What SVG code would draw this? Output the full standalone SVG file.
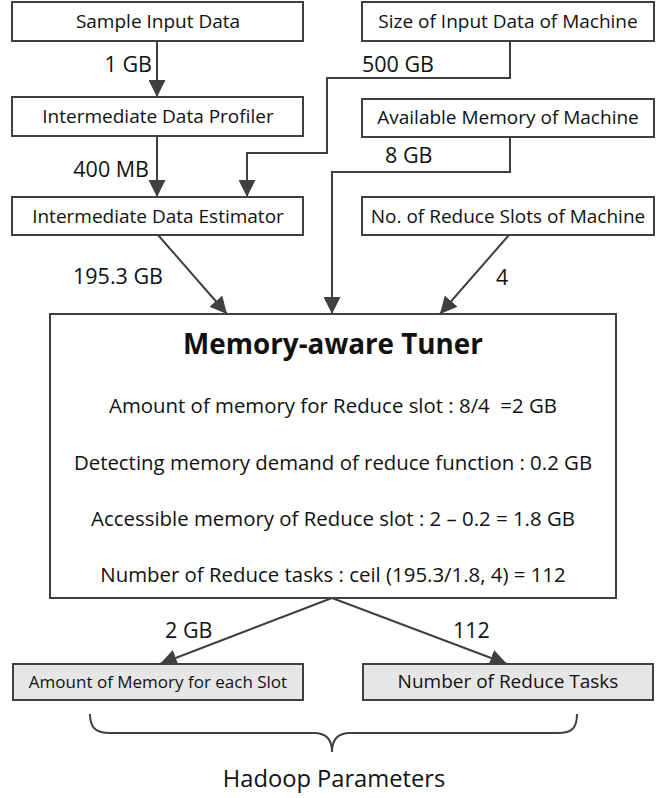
<svg xmlns="http://www.w3.org/2000/svg" width="661" height="798" viewBox="0 0 661 798">
<style>
text{font-family:"Open Sans","Noto Sans","Liberation Sans",sans-serif;fill:#111}
.box{fill:#fff;stroke:#404040;stroke-width:2}
.gbox{fill:#e6e6e6;stroke:#404040;stroke-width:2}
.bt{font-size:19px;text-anchor:middle}
.lb{font-size:21.5px}
.mt{font-size:20.4px;text-anchor:middle}
.con{fill:none;stroke:#404040;stroke-width:2}
</style>
<defs>
<marker id="ah" markerUnits="userSpaceOnUse" markerWidth="17" markerHeight="17" viewBox="0 0 17 17" refX="17" refY="8.5" orient="auto">
<path d="M0,0 L17,8.5 L0,17 Z" fill="#404040"/>
</marker>
</defs>
<rect width="661" height="798" fill="#fff"/>
<g id="connectors">
<path class="con" d="M157,41 V97" marker-end="url(#ah)"/>
<path class="con" d="M157,136 V197" marker-end="url(#ah)"/>
<path class="con" d="M510,41 V78 H327 V153 H247 V197" marker-end="url(#ah)"/>
<path class="con" d="M510,137 V172 H332 V314" marker-end="url(#ah)"/>
<path class="con" d="M158,235 L227,314" marker-end="url(#ah)"/>
<path class="con" d="M509,235 L440,314" marker-end="url(#ah)"/>
<path class="con" d="M332,598 L160,664" marker-end="url(#ah)"/>
<path class="con" d="M332,598 L507,664" marker-end="url(#ah)"/>
<text class="lb" x="152" y="72" text-anchor="end">1 GB</text>
<text class="lb" x="149" y="177" text-anchor="end">400 MB</text>
<text class="lb" x="362" y="72">500 GB</text>
<text class="lb" x="385" y="163">8 GB</text>
<text class="lb" x="73" y="284">195.3 GB</text>
<text class="lb" x="496" y="285">4</text>
<text class="lb" x="165" y="638">2 GB</text>
<text class="lb" x="453" y="638">112</text>
</g>
<g id="sample-input">
<rect class="box" x="12" y="2" width="291" height="39"/>
<text class="bt" x="158" y="28">Sample Input Data</text>
</g>
<g id="profiler">
<rect class="box" x="12" y="97" width="291" height="39"/>
<text class="bt" x="158" y="123">Intermediate Data Profiler</text>
</g>
<g id="estimator">
<rect class="box" x="12" y="197" width="291" height="38"/>
<text class="bt" x="158" y="223">Intermediate Data Estimator</text>
</g>
<g id="size-input">
<rect class="box" x="362" y="2" width="292" height="39"/>
<text class="bt" x="508" y="28">Size of Input Data of Machine</text>
</g>
<g id="available-memory">
<rect class="box" x="362" y="99" width="292" height="38"/>
<text class="bt" x="508" y="124">Available Memory of Machine</text>
</g>
<g id="reduce-slots">
<rect class="box" x="362" y="197" width="292" height="38"/>
<text class="bt" x="508" y="223">No. of Reduce Slots of Machine</text>
</g>
<g id="tuner">
<rect class="box" x="50" y="314" width="566" height="284"/>
<text x="333" y="354" text-anchor="middle" font-size="27.8" font-weight="bold">Memory-aware Tuner</text>
<text class="mt" x="333" y="413" style="white-space:pre">Amount of memory for Reduce slot : 8/4  =2 GB</text>
<text class="mt" x="333" y="470">Detecting memory demand of reduce function : 0.2 GB</text>
<text class="mt" x="333" y="526">Accessible memory of Reduce slot : 2 – 0.2 = 1.8 GB</text>
<text class="mt" x="333" y="582">Number of Reduce tasks : ceil (195.3/1.8, 4) = 112</text>
</g>
<g id="memory-slot">
<rect class="gbox" x="13" y="664" width="290" height="36"/>
<text x="158" y="688" text-anchor="middle" font-size="17">Amount of Memory for each Slot</text>
</g>
<g id="reduce-tasks">
<rect class="gbox" x="363" y="664" width="290" height="36"/>
<text x="508" y="688" text-anchor="middle" font-size="19">Number of Reduce Tasks</text>
</g>
<g id="hadoop-params">
<path class="con" d="M90,714 C90,728 96,733 110,733 H314 C326,733 332,740 332,752 C332,740 338,733 350,733 H558 C572,733 577,728 577,714"/>
<text x="334" y="787" text-anchor="middle" font-size="23.7">Hadoop Parameters</text>
</g>
</svg>
